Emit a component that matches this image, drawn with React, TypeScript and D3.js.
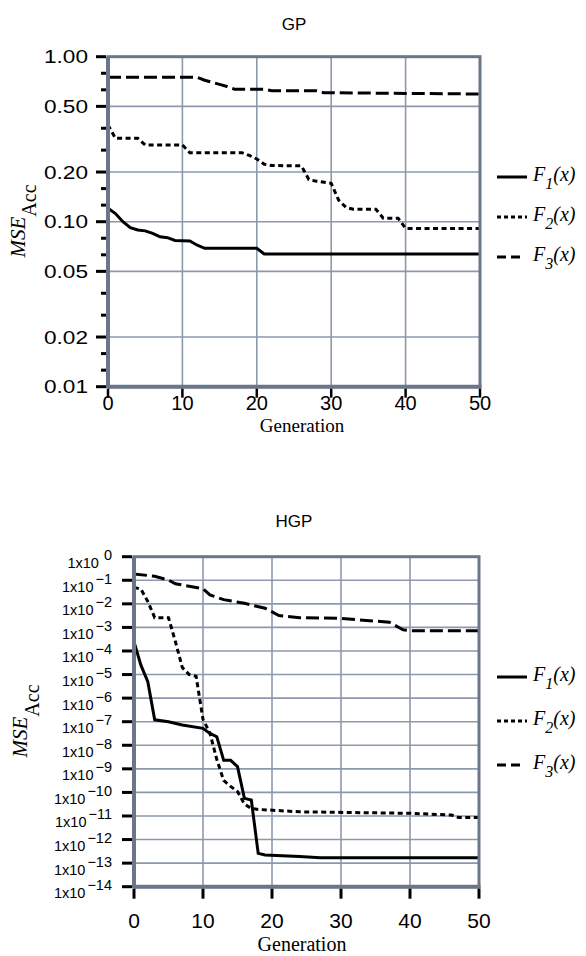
import React from 'react';
import * as d3 from 'd3';

// ---------- data ----------
const generationTicks = [0, 10, 20, 30, 40, 50];
const gpTickValues = [1, 0.5, 0.2, 0.1, 0.05, 0.02, 0.01];
const hgpTickExponents = [0, -1, -2, -3, -4, -5, -6, -7, -8, -9, -10, -11, -12, -13, -14];
const seriesNames = ['1', '2', '3'];

// GP panel
const gpF1Gen = [0, 1, 2, 3, 4, 5, 6, 7, 8, 9, 11, 12, 13, 20, 21, 50];
const gpF1Val = [0.1206, 0.112, 0.1, 0.092, 0.089, 0.088, 0.085, 0.081, 0.08, 0.077, 0.0764, 0.072, 0.069, 0.069, 0.0637, 0.0637];
const gpF2Gen = [0, 1, 4, 5, 10, 11, 18, 19, 20, 21, 22, 26, 27, 28, 30, 31, 32, 33, 36, 37, 39, 40, 50];
const gpF2Val = [0.386, 0.32, 0.32, 0.292, 0.292, 0.262, 0.262, 0.252, 0.24, 0.223, 0.219, 0.218, 0.18, 0.176, 0.171, 0.135, 0.122, 0.119, 0.119, 0.105, 0.105, 0.091, 0.091];
const gpF3Gen = [0, 12, 13, 14, 15, 16, 17, 21, 22, 28, 29, 50];
const gpF3Val = [0.75, 0.75, 0.72, 0.7, 0.68, 0.66, 0.636, 0.634, 0.622, 0.622, 0.605, 0.594];

// HGP panel
const hgpF1Gen = [0, 1, 2, 3, 5, 7, 10, 11, 12, 13, 14, 15, 16, 17, 18, 19, 24, 27, 50];
const hgpF1Val = [2.5e-4, 2.5e-5, 5e-6, 1.2e-7, 1.0e-7, 7.2e-8, 5.2e-8, 3.2e-8, 2.3e-8, 2.3e-9, 2.3e-9, 1.25e-9, 5.6e-11, 4.8e-11, 2.6e-13, 2.2e-13, 1.9e-13, 1.7e-13, 1.7e-13];
const hgpF2Gen = [0, 1, 2, 3, 5, 6, 7, 8, 9, 10, 11, 12, 13, 14, 15, 16, 17, 18, 24, 40, 46, 47, 50];
const hgpF2Val = [5e-2, 4.2e-2, 1.26e-2, 2.6e-3, 2.6e-3, 2.5e-4, 2e-5, 1e-5, 8.5e-6, 1.26e-7, 3.3e-8, 2.5e-9, 3.2e-10, 1.8e-10, 1.1e-10, 3.2e-11, 2.1e-11, 1.9e-11, 1.5e-11, 1.3e-11, 1.1e-11, 8.7e-12, 8.7e-12];
const hgpF3Gen = [0, 3, 5, 6, 10, 11, 13, 16, 19, 21, 24, 30, 37, 39, 40, 50];
const hgpF3Val = [0.186, 0.148, 0.102, 0.071, 0.0437, 0.024, 0.0151, 0.0105, 6.5e-3, 3.2e-3, 2.6e-3, 2.4e-3, 1.66e-3, 7.9e-4, 7.2e-4, 7.2e-4];

// ---------- styles ----------
const FRAME = '#6b7789';
const GRID = '#8c99ad';
const SANS = "'Liberation Sans', Arial, sans-serif";
const SERIF = "'Liberation Serif', 'Times New Roman', serif";
const dashes = [null, '5,3.5', '13,5'];

type Pt = { g: number; v: number };
const zip = (gs: number[], vs: number[]): Pt[] => gs.map((g, i) => ({ g, v: vs[i] }));

const gpSeries = [zip(gpF1Gen, gpF1Val), zip(gpF2Gen, gpF2Val), zip(gpF3Gen, gpF3Val)];
const hgpSeries = [zip(hgpF1Gen, hgpF1Val), zip(hgpF2Gen, hgpF2Val), zip(hgpF3Gen, hgpF3Val)];

function Legend({ x0, ys }: { x0: number; ys: number[] }) {
  return (
    <g>
      {seriesNames.map((n, i) => (
        <g key={n}>
          <line x1={x0} x2={i === 2 ? x0 + 23 : x0 + 30} y1={ys[i]} y2={ys[i]} stroke="#000" strokeWidth={3}
            strokeDasharray={i === 0 ? undefined : i === 1 ? '4,3' : '9,5'} />
          <text x={x0 + 36} y={ys[i] + 3.5} fontFamily={SERIF} fontStyle="italic" fontSize={20} fill="#000">
            F<tspan dy={8} fontSize={16}>{n}</tspan><tspan dy={-8}>(x)</tspan>
          </text>
        </g>
      ))}
    </g>
  );
}

function Frame({ x0, x1, y0, y1 }: { x0: number; x1: number; y0: number; y1: number }) {
  return (
    <g>
      <rect x={x0} y={y0} width={x1 - x0} height={y1 - y0} fill="none" stroke={FRAME} strokeWidth={3} />
      <line x1={x0} x2={x0} y1={y0} y2={y1 + 1.5} stroke={FRAME} strokeWidth={4} />
      <line x1={x0} x2={x1 + 1.5} y1={y1} y2={y1} stroke={FRAME} strokeWidth={4} />
    </g>
  );
}

function GPPanel() {
  const x = d3.scaleLinear().domain([0, 50]).range([108, 480]);
  const y = d3.scaleLog().domain([0.01, 1]).range([386.7, 56.7]);
  const line = d3.line<Pt>().x(d => x(d.g)).y(d => y(d.v));
  const minor: number[] = [];
  for (let i = 0; i < gpTickValues.length - 1; i++) {
    const a = y(gpTickValues[i]);
    const b = y(gpTickValues[i + 1]);
    minor.push(a + (b - a) / 3, a + (2 * (b - a)) / 3);
  }
  return (
    <g>
      <text x={294} y={30} textAnchor="middle" fontFamily={SANS} fontSize={17}>GP</text>
      {gpTickValues.slice(1, -1).map(v => (
        <line key={v} x1={x(0)} x2={x(50)} y1={y(v)} y2={y(v)} stroke={GRID} strokeWidth={1.6} />
      ))}
      {generationTicks.slice(1, -1).map(g => (
        <line key={g} x1={x(g)} x2={x(g)} y1={y(1)} y2={y(0.01)} stroke={GRID} strokeWidth={1.6} />
      ))}
      {gpSeries.map((s, i) => (
        <path key={i} d={line(s) || ''} fill="none" stroke="#000" strokeWidth={3}
          strokeDasharray={dashes[i] || undefined} />
      ))}
      <Frame x0={x(0)} x1={x(50)} y0={y(1)} y1={y(0.01)} />
      {gpTickValues.map(v => (
        <g key={v}>
          <line x1={96} x2={x(0) - 2} y1={y(v)} y2={y(v)} stroke="#000" strokeWidth={3} />
          <text x={88} y={y(v) + 6.5} textAnchor="end" fontFamily={SANS} fontSize={18.5}
            textLength={44} lengthAdjust="spacingAndGlyphs">{d3.format('.2f')(v)}</text>
        </g>
      ))}
      {minor.map((m, i) => (
        <line key={i} x1={101} x2={x(0) - 2} y1={m} y2={m} stroke="#000" strokeWidth={3} />
      ))}
      {generationTicks.map(g => (
        <g key={g}>
          <line x1={x(g)} x2={x(g)} y1={y(0.01) + 2} y2={y(0.01) + 11} stroke="#000" strokeWidth={2.5} />
          <text x={x(g)} y={410} textAnchor="middle" fontFamily={SANS} fontSize={20}>{g}</text>
        </g>
      ))}
      <text x={302} y={432} textAnchor="middle" fontFamily={SERIF} fontSize={19}>Generation</text>
      <text transform={`translate(25,221) rotate(-90)`} textAnchor="middle" fontFamily={SERIF} fontSize={21}>
        <tspan fontStyle="italic">MSE</tspan><tspan dy={11} fontSize={20}>Acc</tspan>
      </text>
      <Legend x0={497} ys={[177, 217, 257]} />
    </g>
  );
}

function HGPPanel() {
  const x = d3.scaleLinear().domain([0, 50]).range([134, 479]);
  const y = d3.scaleLog().domain([1e-14, 1]).range([886.7, 556.7]);
  const line = d3.line<Pt>().x(d => x(d.g)).y(d => y(d.v));
  return (
    <g>
      <text x={294} y={527} textAnchor="middle" fontFamily={SANS} fontSize={17}>HGP</text>
      {hgpTickExponents.slice(1, -1).map(e => (
        <line key={e} x1={x(0)} x2={x(50)} y1={y(Math.pow(10, e))} y2={y(Math.pow(10, e))} stroke={GRID} strokeWidth={1.6} />
      ))}
      {generationTicks.slice(1, -1).map(g => (
        <line key={g} x1={x(g)} x2={x(g)} y1={y(1)} y2={y(1e-14)} stroke={GRID} strokeWidth={1.6} />
      ))}
      {hgpSeries.map((s, i) => (
        <path key={i} d={line(s) || ''} fill="none" stroke="#000" strokeWidth={3}
          strokeDasharray={dashes[i] || undefined} />
      ))}
      <Frame x0={x(0)} x1={x(50)} y0={y(1)} y1={y(1e-14)} />
      {hgpTickExponents.map(e => {
        const yy = y(Math.pow(10, e));
        return (
          <g key={e}>
            <line x1={122} x2={x(0) - 2} y1={yy} y2={yy} stroke="#000" strokeWidth={3} />
            <text x={112} y={yy + 11.5} textAnchor="end" fontFamily={SANS} fontSize={14.5}>
              1x10<tspan dy={-8} dx={e === 0 ? 5 : 2} fontSize={14.5}>{e === 0 ? '0' : '\u2212' + Math.abs(e)}</tspan>
            </text>
          </g>
        );
      })}
      {generationTicks.map(g => (
        <g key={g}>
          <line x1={x(g)} x2={x(g)} y1={y(1e-14) + 2} y2={y(1e-14) + 12} stroke="#000" strokeWidth={3} />
          <text x={x(g)} y={928} textAnchor="middle" fontFamily={SANS} fontSize={21}>{g}</text>
        </g>
      ))}
      <text x={302} y={951} textAnchor="middle" fontFamily={SERIF} fontSize={20}>Generation</text>
      <text transform={`translate(27,721) rotate(-90)`} textAnchor="middle" fontFamily={SERIF} fontSize={21}>
        <tspan fontStyle="italic">MSE</tspan><tspan dy={12} fontSize={20}>Acc</tspan>
      </text>
      <Legend x0={497} ys={[677, 721, 765]} />
    </g>
  );
}

export default function App() {
  return (
    <svg width={586} height={956} viewBox="0 0 586 956"
      style={{ position: 'absolute', left: 0, top: 0, background: '#fff' }}>
      <rect width={586} height={956} fill="#fff" />
      <GPPanel />
      <HGPPanel />
    </svg>
  );
}
